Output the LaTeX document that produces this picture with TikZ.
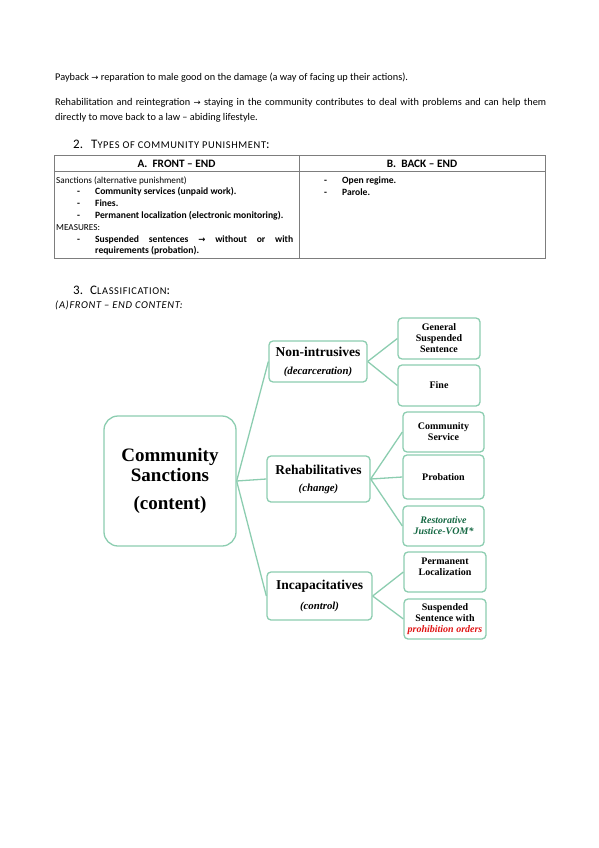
\documentclass[tikz,border=0pt]{standalone}
\usepackage{fontspec}
\setmainfont{Carlito}
\newfontfamily\diagfont{Liberation Serif}
\newfontfamily\arrowfont{DejaVu Sans}
\usetikzlibrary{positioning,backgrounds}
\definecolor{boxgreen}{RGB}{140,205,176}
\definecolor{vomgreen}{RGB}{22,105,68}
\definecolor{ordred}{RGB}{225,20,20}
\definecolor{tabgray}{RGB}{125,125,125}
\newcommand{\arr}{{\arrowfont\fontsize{8.5}{9}\selectfont →}}
\newcommand{\smallcap}[2]{{\fontsize{13}{14}\selectfont #1}{\fontsize{10.4}{12}\selectfont #2}}

\begin{document}
\begin{tikzpicture}[x=1pt,y=-1pt,
  body/.style={anchor=base west, inner sep=0pt, font=\fontsize{10.3}{12}\selectfont},
  cell/.style={anchor=base west, inner sep=0pt, font=\fontsize{9.2}{11}\selectfont},
  item/.style={anchor=base west, inner sep=0pt, font=\fontsize{9.6}{11}\selectfont\bfseries},
  head/.style={anchor=base, inner sep=0pt, font=\fontsize{11.3}{13}\selectfont\bfseries},
  tabline/.style={draw=tabgray, line width=0.8pt},
  sbox/.style={draw=boxgreen, line width=1.3pt, fill=white, rounded corners=4pt, align=center, inner sep=1pt, font=\diagfont\bfseries\fontsize{10}{11}\selectfont},
  mid/.style={sbox, font=\diagfont\bfseries\fontsize{13.5}{15}\selectfont},
  conn/.style={draw=boxgreen, line width=1.3pt}]
\useasboundingbox (0,0) rectangle (599,848);

% text above the table
\node[body] (pay) at (55,81) {Payback \arr\ reparation to male good on the damage (a way of facing up their actions).};
\node[body] (reh1) at (55,106) {\makebox[491pt][s]{Rehabilitation and reintegration \arr\ staying in the community contributes to deal with problems and can help them}};
\node[body] (reh2) at (55,121) {directly to move back to a law -- abiding lifestyle.};

% 2. types
\node[body] (num2) at (73,148) {\fontsize{13}{14}\selectfont 2.};
\node[body] (types) at (91,148) {\addfontfeature{LetterSpace=6}\smallcap{T}{YPES OF COMMUNITY PUNISHMENT}\fontsize{13}{14}\selectfont:};

\draw[tabline] (54,155) rectangle (545,258);
\draw[tabline] (54,171) -- (545,171);
\draw[tabline] (299,155) -- (299,258);
\node[head] (front) at (176.5,167.5) {A.\ \ FRONT -- END};
\node[head] (back) at (422,167.5) {B.\ \ BACK -- END};

\node[cell] (sanc) at (56,183) {Sanctions (alternative punishment)};
\node[item] (d1) at (77,194.8) {-};
\node[item] (t1) at (95,194.8) {Community services (unpaid work).};
\node[item] (d2) at (77,206.6) {-};
\node[item] (t2) at (95,206.6) {Fines.};
\node[item] (d3) at (77,218.4) {-};
\node[item] (t3) at (95,218.4) {Permanent localization (electronic monitoring).};
\node[cell] (meas) at (56,230.2) {MEASURES:};
\node[item] (d4) at (77,242) {-};
\node[item] (t4) at (95,242) {\makebox[198pt][s]{Suspended sentences \arr\ without or with}};
\node[item] (t5) at (95,253.6) {requirements (probation).};
\node[item] (d5) at (324,183.5) {-};
\node[item] (o1) at (342,183.5) {Open regime.};
\node[item] (d6) at (324,195) {-};
\node[item] (o2) at (342,195) {Parole.};

% 3. classification
\node[body] (num3) at (73,294) {\fontsize{13}{14}\selectfont 3.};
\node[body] (clas) at (90,294) {\addfontfeature{LetterSpace=6}\smallcap{C}{LASSIFICATION}\fontsize{13}{14}\selectfont:};
\node[body] (fec) at (55,308) {\fontsize{10.5}{12}\selectfont\itshape\addfontfeature{LetterSpace=6}(A)FRONT -- END CONTENT:};

% diagram
\node[sbox, rounded corners=14pt, minimum width=132pt, minimum height=130pt, font=\diagfont\bfseries\fontsize{19}{20}\selectfont] (main) at (170,481) {Community\\Sanctions\\[8pt](content)};

\node[mid, minimum width=98pt, minimum height=41pt] (nonint) at (318,361.5) {Non-intrusives\\[3pt]{\fontsize{10.8}{10}\selectfont\itshape (decarceration)}};
\node[mid, minimum width=103pt, minimum height=46pt] (rehab) at (318.5,479) {Rehabilitatives\\[2pt]{\fontsize{10.8}{10}\selectfont\itshape (change)}};
\node[mid, minimum width=105pt, minimum height=48pt] (incap) at (319.5,596) {Incapacitatives\\[5pt]{\fontsize{10.8}{10}\selectfont\itshape (control)}};

\node[sbox, minimum width=82pt, minimum height=41pt] (gss) at (439,338.5) {General\\Suspended\\Sentence};
\node[sbox, minimum width=82pt, minimum height=41pt] (fine) at (439,385.5) {Fine};
\node[sbox, minimum width=81pt, minimum height=40pt] (cserv) at (443.5,432) {Community\\Service};
\node[sbox, minimum width=81pt, minimum height=44pt] (prob) at (443.5,477) {Probation};
\node[sbox, minimum width=81pt, minimum height=40pt, text=vomgreen] (rj) at (443.5,526) {\itshape Restorative\\\itshape Justice-VOM*};
\node[sbox, minimum width=82pt, minimum height=40pt] (ploc) at (445,572) {Permanent\\Localization\\~};
\node[sbox, minimum width=82pt, minimum height=40pt] (sswp) at (445,619) {Suspended\\Sentence with\\{\color{ordred}\itshape prohibition orders}};

\begin{scope}[on background layer]
\path [conn] (main.east) -- (nonint.west);
\path [conn] (main.east) -- (rehab.west);
\path [conn] (main.east) -- (incap.west);
\path [conn] (nonint.east) -- (gss.west);
\path [conn] (nonint.east) -- (fine.west);
\path [conn] (rehab.east) -- (cserv.west);
\path [conn] (rehab.east) -- (prob.west);
\path [conn] (rehab.east) -- (rj.west);
\path [conn] (incap.east) -- (ploc.west);
\path [conn] (incap.east) -- (sswp.west);
\end{scope}
\end{tikzpicture}
\end{document}
